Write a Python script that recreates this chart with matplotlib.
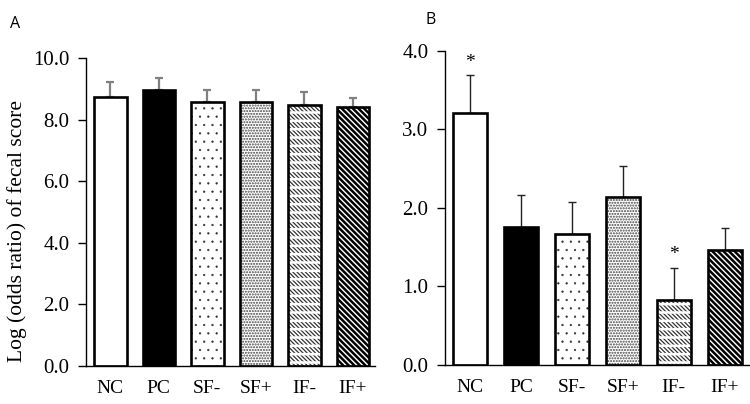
import numpy as np
import matplotlib
matplotlib.use("Agg")
from matplotlib import pyplot as plt

groups = ["NC", "PC", "SF-", "SF+", "IF-", "IF+"]

a_means = [8.75, 8.96, 8.59, 8.57, 8.48, 8.43]
a_errs = [0.48, 0.38, 0.39, 0.40, 0.41, 0.29]

b_means = [3.21, 1.76, 1.67, 2.14, 0.83, 1.46]
b_errs = [0.48, 0.40, 0.40, 0.40, 0.41, 0.29]
b_signif = ["*", "", "", "", "*", ""]

# fill style per group: face, hatch, hatch colour, hatch linewidth
_FACES = ["white", "black", "white", "white", "white", "white"]
_HATCH = [None, None, "..", "......", "\\" * 8, "\\" * 6]
_HATCH_COLOR = ["black", "black", "#333333", "#444444", "#333333", "black"]
_HATCH_LW = [1.0, 1.0, 0.4, 1.0, 0.9, 1.8]
# groups whose diagonals are broken into rows of short dashes
_BROKEN = [False, False, False, False, True, False]

plt.rcParams["font.family"] = ["Liberation Serif", "DejaVu Serif"]


def _draw_bars(ax, means, errs, err_color, err_lw):
    x = np.arange(len(means))
    for i in range(len(means)):
        with plt.rc_context({"hatch.linewidth": _HATCH_LW[i]}):
            ax.bar(x[i], means[i], width=0.67, color=_FACES[i], edgecolor=_HATCH_COLOR[i],
                   hatch=_HATCH[i], linewidth=0, zorder=2)
        if _BROKEN[i]:
            with plt.rc_context({"hatch.linewidth": 1.8}):
                ax.bar(x[i], means[i], width=0.67, color="none", edgecolor="white",
                       hatch="--", linewidth=0, zorder=2.5)
    ax.bar(x, means, width=0.67, color="none", edgecolor="black", linewidth=1.9, zorder=3)
    ax.errorbar(x, means, yerr=[np.zeros(len(errs)), errs], fmt="none", ecolor=err_color,
                elinewidth=err_lw, capsize=2.8, capthick=err_lw, zorder=1)
    ax.set_xticks(x)
    ax.set_xticklabels(groups, fontsize=14)
    for s in ["top", "right"]:
        ax.spines[s].set_visible(False)
    ax.tick_params(axis="x", length=0, pad=10)
    ax.tick_params(axis="y", labelsize=15, direction="out", length=6, width=1, pad=6)
    ax.spines["left"].set_linewidth(1)
    ax.spines["bottom"].set_linewidth(1)


fig = plt.figure(figsize=(7.5, 4.04), dpi=100)

ax_a = fig.add_axes([0.1147, 0.094, 0.385, 0.762])
_draw_bars(ax_a, a_means, a_errs, "#808080", 1.6)
ax_a.set_xlim(-0.5, 5.45)
ax_a.set_ylim(0, 10)
ax_a.set_yticks(np.arange(0, 10.1, 2))
ax_a.set_yticklabels([f"{v:.1f}" for v in np.arange(0, 10.1, 2)])
ax_a.set_ylabel("Log (odds ratio) of fecal score", fontsize=15.5)
ax_a.yaxis.set_label_coords(-0.205, 0.44)

ax_b = fig.add_axes([0.5933, 0.0965, 0.4067, 0.7775])
_draw_bars(ax_b, b_means, b_errs, "#222222", 1.0)
ax_b.set_xlim(-0.5, 5.5)
ax_b.set_ylim(0, 4)
ax_b.set_yticks(np.arange(0, 4.01, 1))
ax_b.set_yticklabels([f"{v:.1f}" for v in np.arange(0, 4.01, 1)])
for i, s in enumerate(b_signif):
    if s:
        ax_b.text(i, b_means[i] + b_errs[i] + 0.06, s, ha="center", va="bottom", fontsize=14)

fig.text(0.013, 0.93, "A", fontsize=11.5, family="Open Sans")
fig.text(0.567, 0.94, "B", fontsize=11.5, family="Open Sans")

fig.savefig("out.png", dpi=100)
